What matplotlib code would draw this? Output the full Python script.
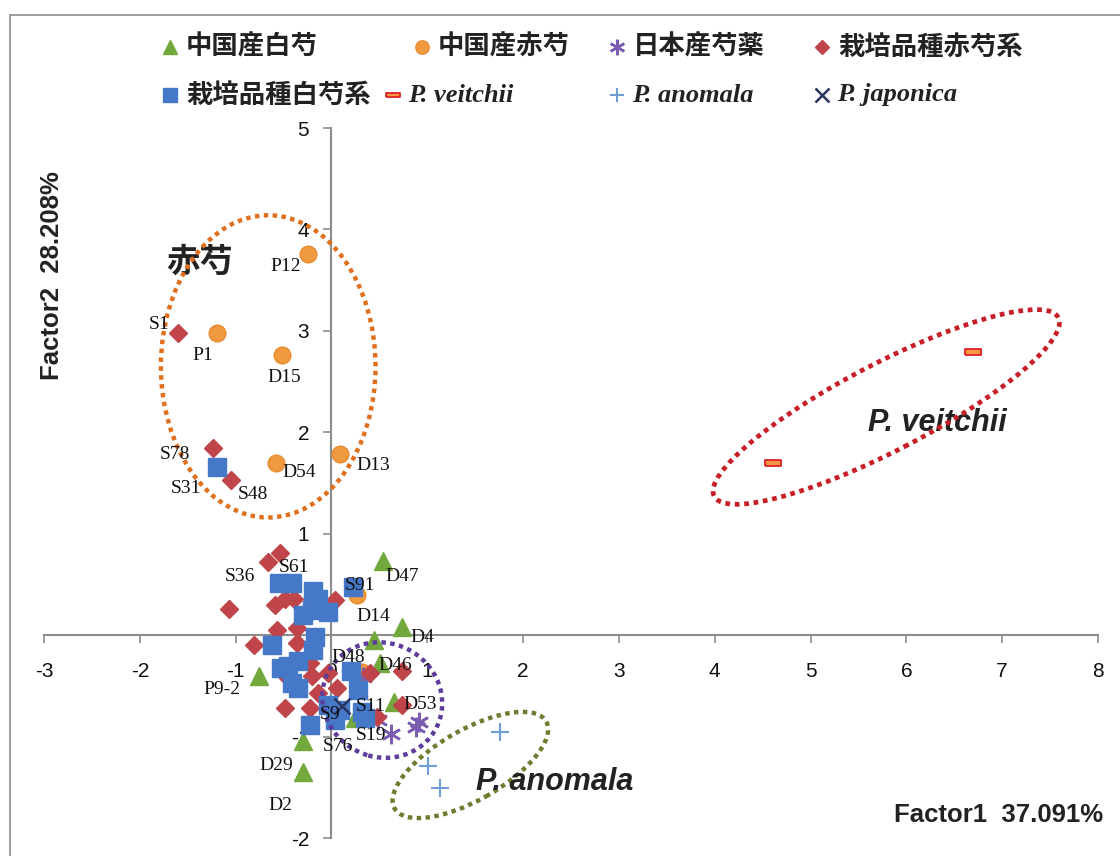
import matplotlib
matplotlib.use("Agg")
import matplotlib.pyplot as plt
from matplotlib.lines import Line2D
from matplotlib.patches import Ellipse, Rectangle

plt.rcParams["font.family"] = ["Liberation Sans", "Noto Sans CJK JP", "DejaVu Sans"]
plt.rcParams["axes.unicode_minus"] = False

# --- data (Factor1, Factor2 scores) ---
bai_x = [0.54, 0.74, 0.44, 0.51, 0.65, -0.76, -0.30, -0.30, 0.25]
bai_y = [0.73, 0.08, -0.05, -0.27, -0.66, -0.40, -1.04, -1.35, -0.82]

chi_x = [-0.24, -1.19, -0.52, -0.58, 0.09, 0.27, 0.32]
chi_y = [3.76, 2.98, 2.76, 1.70, 1.79, 0.40, -0.36]

jp_x = [0.33, 0.49, 0.62, 0.88, 0.91]
jp_y = [-0.41, -0.84, -0.97, -0.91, -0.86]

red_x = [-1.60, -1.24, -1.05, -0.54, -0.66, -1.07, -0.59, -0.48, -0.39, 0.04,
         -0.57, -0.36, -0.81, -0.36, -0.22, -0.04, -0.45, 0.06, -0.14, -0.48,
         -0.22, 0.40, 0.74, 0.48, 0.74, -0.14, -0.20]
red_y = [2.98, 1.85, 1.53, 0.81, 0.72, 0.26, 0.30, 0.36, 0.36, 0.35,
         0.05, 0.07, -0.10, -0.08, -0.27, -0.37, -0.42, -0.52, -0.57, -0.72,
         -0.72, -0.37, -0.35, -0.81, -0.69, 0.27, -0.40]

white_x = [-1.19, -0.55, -0.41, -0.19, -0.14, -0.30, -0.20, -0.04, 0.23, -0.17,
           -0.19, -0.62, -0.45, -0.35, -0.53, -0.35, -0.41, 0.20, 0.28, -0.04,
           0.09, 0.32, 0.04, 0.35, -0.22]
white_y = [1.66, 0.51, 0.51, 0.44, 0.36, 0.20, 0.25, 0.23, 0.47, -0.02,
           -0.15, -0.10, -0.30, -0.25, -0.32, -0.52, -0.47, -0.35, -0.54, -0.69,
           -0.74, -0.76, -0.84, -0.82, -0.89]

veit_x = [4.61, 6.70]
veit_y = [1.70, 2.79]

anom_x = [1.76, 1.01, 1.13]
anom_y = [-0.95, -1.29, -1.51]

japo_x = [0.11]
japo_y = [-0.70]

# sample labels and where they sit (data coords)
label_names = ["P12", "P1", "D15", "S1", "S78", "S31", "S48", "D54", "D13",
               "S36", "S61", "S91", "D47", "D14", "D4", "D48", "D46", "P9-2",
               "S11", "D53", "S9", "S19", "S76", "D29", "D2"]
label_x = [-0.48, -1.34, -0.49, -1.80, -1.63, -1.52, -0.82, -0.34, 0.44,
           -0.95, -0.39, 0.30, 0.74, 0.44, 0.95, 0.18, 0.67, -1.14,
           0.41, 0.93, -0.01, 0.41, 0.07, -0.58, -0.53]
label_y = [3.63, 2.76, 2.54, 3.06, 1.78, 1.45, 1.39, 1.60, 1.67,
           0.58, 0.67, 0.49, 0.58, 0.18, -0.02, -0.22, -0.30, -0.54,
           -0.70, -0.68, -0.78, -0.99, -1.10, -1.29, -1.68]

# --- styles ---
dash = [(-1, -0.32), (1, -0.32), (1, 0.32), (-1, 0.32), (-1, -0.32)]
series = [
    ("中国産白芍", bai_x, bai_y, dict(marker="^", ms=13, mfc="#72A83C", mec="#72A83C")),
    ("中国産赤芍", chi_x, chi_y, dict(marker="o", ms=12, mfc="#F09A40", mec="#E88A30")),
    ("日本産芍薬", jp_x, jp_y, dict(marker=(6, 2, 0), ms=14, mec="#7B5CB0", mew=1.8)),
    ("栽培品種赤芍系", red_x, red_y, dict(marker="D", ms=9, mfc="#C0454A", mec="#C0454A")),
    ("栽培品種白芍系", white_x, white_y, dict(marker="s", ms=13, mfc="#4678C8", mec="#4678C8")),
    ("P. veitchii", veit_x, veit_y, dict(marker=dash, ms=12, mfc="#F79646", mec="#E02020", mew=1.3)),
    ("P. anomala", anom_x, anom_y, dict(marker="+", ms=13, mec="#6E9ED6", mew=1.5)),
    ("P. japonica", japo_x, japo_y, dict(marker="x", ms=12, mec="#2A3560", mew=1.8)),
]

fig = plt.figure(figsize=(11.2, 8.56), dpi=100)
W, H = 1120, 856
ax = fig.add_axes([44 / W, 1 - 838 / H, (1098 - 44) / W, (838 - 128) / H])
ax.set_xlim(-3, 8)
ax.set_ylim(-2, 5)

for name, xs, ys, st in series:
    ax.plot(xs, ys, linestyle="none", **st, zorder=3)

for t, x, y in zip(label_names, label_x, label_y):
    ax.text(x, y, t, family="Liberation Serif", fontsize=14, ha="center",
            va="center", color="#111111", zorder=5)

# group ellipses
dots = (0, (1, 1))
ax.add_patch(Ellipse((-0.66, 2.65), 2.24, 2.98, angle=0, fill=False,
                     ec="#E0701E", lw=3.2, ls=dots, zorder=4))
ax.add_patch(Ellipse((5.79, 2.25), 4.0, 0.87, angle=26, fill=False,
                     ec="#C81E28", lw=3.4, ls=dots, zorder=4))
ax.add_patch(Ellipse((0.53, -0.64), 1.26, 1.13, angle=-15, fill=False,
                     ec="#5E3C9C", lw=3.2, ls=dots, zorder=4))
ax.add_patch(Ellipse((1.45, -1.28), 1.8, 0.7, angle=28, fill=False,
                     ec="#6E7C30", lw=3.2, ls=dots, zorder=4))

ax.text(-1.37, 3.68, "赤芍", family=["Noto Sans CJK JP"], fontsize=24,
        fontweight="bold", ha="center", va="center", color="#222222")
ax.text(6.32, 2.09, "P. veitchii", fontsize=22, fontweight="bold",
        style="italic", ha="center", va="center", color="#222222")
ax.text(2.33, -1.45, "P. anomala", fontsize=22, fontweight="bold",
        style="italic", ha="center", va="center", color="#222222", zorder=6)

# axes through the origin, Excel style
for s in ("top", "right"):
    ax.spines[s].set_visible(False)
for s in ("left", "bottom"):
    ax.spines[s].set_position(("data", 0))
    ax.spines[s].set_color("#8C8C8C")
    ax.spines[s].set_linewidth(1.5)
ax.set_xticks(range(-3, 9))
ax.set_yticks(range(-2, 6))
ax.tick_params(direction="out", length=6, width=1.2, color="#8C8C8C",
               labelsize=15, labelcolor="#111111")
ax.tick_params(axis="x", pad=13)
ax.tick_params(axis="y", pad=10)
ax.set_facecolor("none")

fig.text(1103 / W, 1 - 815 / H, "Factor1  37.091%", fontsize=18.5,
         fontweight="bold", ha="right", va="center", color="#222222")
fig.text(52 / W, 1 - 276 / H, "Factor2  28.208%", fontsize=18.5,
         fontweight="bold", rotation=90, ha="center", va="center", color="#222222")

# legend laid out like the Excel one
leg_pos = [(170, 47), (422, 47), (617, 47), (822, 47),
           (170, 95), (393, 95), (617, 95), (822, 95)]
for (name, xs, ys, st), (px, py) in zip(series, leg_pos):
    st2 = dict(st)
    st2["ms"] = st["ms"] * 0.8
    fig.add_artist(Line2D([px / W], [1 - py / H], transform=fig.transFigure,
                          linestyle="none", **st2))
    if name.startswith("P."):
        fig.text((px + 15) / W, 1 - py / H, name, family="Liberation Serif",
                 fontsize=19, fontweight="bold", style="italic",
                 ha="left", va="center", color="#222222")
    else:
        fig.text((px + 16) / W, 1 - py / H, name, family=["Noto Sans CJK JP"],
                 fontsize=19, fontweight="bold", ha="left", va="center",
                 color="#222222")

fig.add_artist(Rectangle((10 / W, -0.1), 1.2, 1 - 15 / H + 0.1,
                         transform=fig.transFigure, fill=False,
                         ec="#8C8C8C", lw=1.2))

fig.savefig("out.png", dpi=100)
